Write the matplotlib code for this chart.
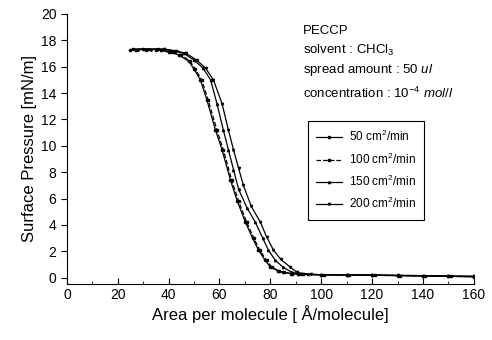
import matplotlib
matplotlib.use("Agg")
import matplotlib.pyplot as plt
from matplotlib.ticker import MultipleLocator

plt.rcParams['font.family'] = ['Liberation Sans', 'DejaVu Sans']
plt.rcParams['mathtext.fontset'] = 'custom'
plt.rcParams['mathtext.rm'] = 'Liberation Sans'
plt.rcParams['mathtext.it'] = 'Liberation Sans:italic'

# isotherm data
x_50 = [25, 30, 35, 40, 44, 48, 50, 52.5, 55, 58.4, 61, 64.3, 67, 70.2, 73, 75.3,
        78, 80, 83, 85, 88, 92, 100, 110, 120, 130, 140, 150, 160]
y_50 = [17.3, 17.35, 17.3, 17.1, 16.9, 16.4, 15.8, 15.0, 13.5, 11.2, 9.7, 7.4, 5.8, 4.2,
        3.0, 2.1, 1.3, 0.8, 0.5, 0.4, 0.3, 0.25, 0.2, 0.2, 0.18, 0.15, 0.12, 0.1, 0.05]

x_100 = [26, 31, 36, 41, 45, 48.5, 50.5, 53, 55.5, 59, 61.5, 64.8, 67.5, 70.7, 73.5, 75.8,
         78.5, 80.5, 83.5, 85.5, 88.5, 93, 101, 111, 121, 131, 141, 151, 160]
y_100 = [17.35, 17.3, 17.35, 17.1, 16.9, 16.4, 15.8, 15.0, 13.5, 11.2, 9.7, 7.4, 5.8, 4.2,
         3.0, 2.1, 1.3, 0.8, 0.5, 0.4, 0.3, 0.25, 0.22, 0.2, 0.18, 0.15, 0.12, 0.1, 0.08]

x_150 = [27, 32, 37, 42, 46, 50, 53.5, 56.5, 59, 61.5, 63.5, 65.5, 67.5, 70.8, 74.1, 77,
         79.2, 82, 85, 88, 91, 95, 100, 110, 120, 130, 140, 150, 160]
y_150 = [17.3, 17.35, 17.3, 17.2, 17.0, 16.5, 15.9, 15.0, 13.2, 11.2, 9.7, 8.2, 6.7, 5.3,
         4.2, 3.0, 2.1, 1.3, 0.8, 0.45, 0.3, 0.25, 0.22, 0.2, 0.2, 0.17, 0.15, 0.12, 0.1]

x_200 = [28, 33, 38, 43, 47, 51, 54.5, 57.6, 61, 63.5, 65.5, 67.5, 69.4, 72.5, 76.1, 78.5,
         81.2, 84, 87.8, 90.5, 93, 96, 100, 110, 120, 130, 140, 150, 160]
y_200 = [17.3, 17.3, 17.35, 17.2, 17.0, 16.5, 15.9, 15.0, 13.2, 11.2, 9.7, 8.3, 7.0, 5.4,
         4.2, 3.1, 2.1, 1.4, 0.8, 0.4, 0.3, 0.25, 0.22, 0.2, 0.2, 0.17, 0.15, 0.12, 0.1]

labels = ["50 cm$^2$/min", "100 cm$^2$/min", "150 cm$^2$/min", "200 cm$^2$/min"]
markers = ['o', 's', '^', 'v']
styles = ['-', '--', '-', '-']

fig = plt.figure(figsize=(4.92, 3.40), dpi=100)
ax = fig.add_axes([0.136, 0.166, 0.827, 0.793])

series = [(x_50, y_50), (x_100, y_100), (x_150, y_150), (x_200, y_200)]
for (xs, ys), lab, m, ls in zip(series, labels, markers, styles):
    ax.plot(xs, ys, color='black', linestyle=ls, linewidth=0.9, marker=m,
            markersize=1.6, label=lab)

ax.set_xlim(0, 160)
ax.set_ylim(-0.45, 20)
ax.xaxis.set_major_locator(MultipleLocator(20))
ax.xaxis.set_minor_locator(MultipleLocator(10))
ax.yaxis.set_major_locator(MultipleLocator(2))
ax.tick_params(axis='x', which='major', direction='in', length=4, labelsize=10)
ax.tick_params(axis='x', which='minor', direction='in', length=2.5)
ax.tick_params(axis='y', direction='out', length=4, labelsize=10)
ax.spines['top'].set_visible(False)
ax.spines['right'].set_visible(False)

ax.set_xlabel("Area per molecule [ Å/molecule]", fontsize=12, labelpad=2)
ax.set_ylabel("Surface Pressure [mN/m]", fontsize=12, labelpad=3)

tx = 0.58
ax.text(tx, 0.937, "PECCP", transform=ax.transAxes, fontsize=9.5, va='center')
ax.text(tx, 0.866, "solvent : CHCl$_3$", transform=ax.transAxes, fontsize=9.5, va='center')
ax.text(tx, 0.792, r"spread amount : 50 $\mathit{ul}$", transform=ax.transAxes,
        fontsize=9.5, va='center')
ax.text(tx, 0.707, r"concentration : 10$^{\mathrm{-4}}$ $\mathit{mol/l}$",
        transform=ax.transAxes, fontsize=9.5, va='center')

leg = ax.legend(loc='upper left', bbox_to_anchor=(0.577, 0.625), fontsize=8.5,
                fancybox=False, edgecolor='black', framealpha=1,
                handlelength=2.2, handletextpad=0.6, labelspacing=0.6, borderpad=0.7)
leg.get_frame().set_linewidth(0.8)

fig.savefig("out.png", dpi=100)
